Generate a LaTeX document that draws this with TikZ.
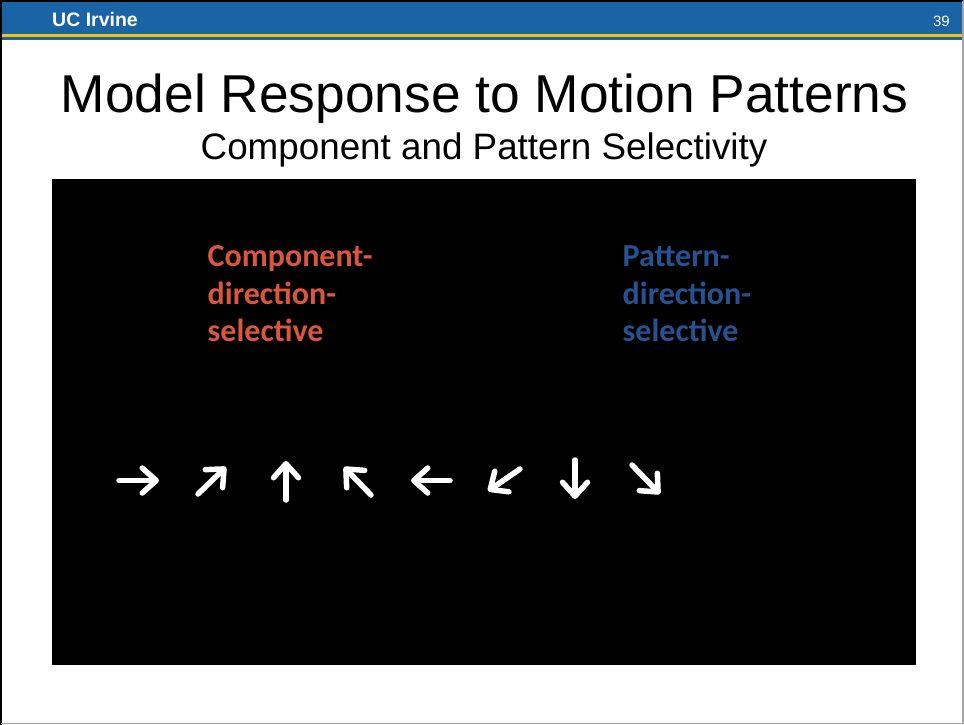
\documentclass[tikz,border=0pt]{standalone}
\usepackage{fontspec}
\setmainfont{Liberation Sans}
\newfontfamily\calfont{Carlito}
\usetikzlibrary{arrows.meta}
\definecolor{ucblue}{RGB}{26,100,166}
\definecolor{ucgold}{RGB}{245,196,0}
\definecolor{compred}{RGB}{218,86,60}
\definecolor{pattblue}{RGB}{38,82,145}
\tikzset{
  mvarrow/.style={white, line width=5.5pt, line cap=round,
    -{Straight Barb[length=14pt,width=25pt,round]}},
  redlabel/.style={anchor=base west, inner sep=0pt, text=compred,
    font=\calfont\bfseries\fontsize{32}{38}\selectfont},
  bluelabel/.style={anchor=base west, inner sep=0pt, text=pattblue,
    font=\calfont\bfseries\fontsize{32}{38}\selectfont}
}
\begin{document}
\begin{tikzpicture}[x=1pt,y=-1pt]
\useasboundingbox (0,0) rectangle (964,725);
\fill[white] (0,0) rectangle (964,725);
% header band
\fill[ucblue] (0,0) rectangle (964,34.5);
\fill[ucgold] (0,34.5) rectangle (964,37.5);
\fill[ucblue] (0,37.5) rectangle (964,40.5);
% frame
\draw[black, line width=2pt] (1,725) -- (1,1) -- (963,1);
\draw[gray!70, line width=1.5pt] (963,1) -- (963,723.5) -- (1,723.5);
\node[anchor=base west, inner sep=0pt, text=white,
  font=\bfseries\fontsize{19.5}{22}\selectfont] (uci) at (52,27) {UC Irvine};
\node[anchor=base east, inner sep=0pt, text=white,
  font=\fontsize{15}{18}\selectfont] (pg) at (950,27) {39};
% titles
\node[anchor=base, inner sep=0pt, font=\fontsize{53.3}{60}\selectfont] (title) at (484.5,112.5) {Model Response to Motion Patterns};
\node[anchor=base, inner sep=0pt, font=\fontsize{36.8}{42}\selectfont] (subtitle) at (484,159.5) {Component and Pattern Selectivity};
% black panel
\fill[black] (52,179) rectangle (916,665);
% labels
\node[redlabel] (c1) at (207.5,266.5) {Component-};
\node[redlabel] (c2) at (207.5,304) {direction-};
\node[redlabel] (c3) at (207.5,341.5) {selective};
\node[bluelabel] (p1) at (622.5,266.5) {Pattern-};
\node[bluelabel] (p2) at (622.5,304) {direction-};
\node[bluelabel] (p3) at (622.5,341.5) {selective};
% motion arrows
\draw[mvarrow] (119,480.5) -- (159,480.5);
\draw[mvarrow] (198,494) -- (226,467);
\draw[mvarrow] (286,500) -- (286,461);
\draw[mvarrow] (371,495) -- (344,467);
\draw[mvarrow] (450,480.5) -- (411,480.5);
\draw[mvarrow] (520,469) -- (488,491);
\draw[mvarrow] (575,460) -- (575,499);
\draw[mvarrow] (632,465) -- (660,494);
\end{tikzpicture}
\end{document}
